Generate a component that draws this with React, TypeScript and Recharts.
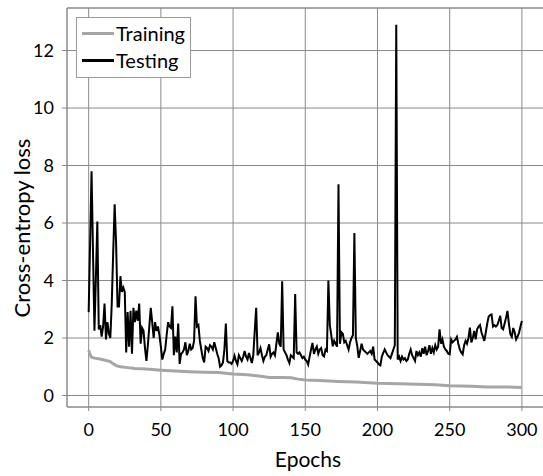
import React from "react";
import { LineChart, Line, XAxis, YAxis, CartesianGrid, ReferenceLine } from "recharts";

const FONT = "Lato, 'Open Sans', sans-serif";
const GRID = "#8a8a8a";

const EPOCH_TICKS = [0, 50, 100, 150, 200, 250, 300];
const LOSS_TICKS = [0, 2, 4, 6, 8, 10, 12];

// testing loss, one value per epoch (0..300)
const TEST_LOSS = [
  2.9, 5.3, 7.8, 5.0, 2.25, 4.1, 6.05, 2.3, 2.45, 2.05,
  2.4, 3.2, 1.95, 2.55, 2.15, 2.0, 3.2, 5.0, 6.65, 5.3,
  3.1, 3.1, 4.15, 3.6, 3.75, 3.6, 1.5, 2.9, 1.7, 2.95,
  1.45, 3.05, 2.55, 2.95, 2.6, 3.2, 1.8, 2.35, 2.25, 1.65,
  1.2, 1.75, 2.4, 3.05, 2.55, 2.0, 2.55, 2.25, 2.4, 2.1,
  1.7, 1.25, 1.45, 1.6, 2.1, 2.55, 2.4, 2.35, 3.1, 1.4,
  2.05, 1.5, 2.5, 1.1, 1.45, 1.5, 1.6, 1.85, 1.4, 1.55,
  1.8, 1.6, 1.65, 1.9, 3.45, 2.4, 2.45, 1.9, 1.6, 1.3,
  1.15, 1.7, 1.65, 1.55, 1.75, 1.7, 1.6, 1.85, 1.65, 1.45,
  1.3, 1.0, 1.05, 1.15, 1.6, 2.5, 1.2, 1.15, 1.15, 1.1,
  1.2, 1.38, 1.2, 1.08, 1.4, 1.3, 1.2, 1.35, 1.55, 1.35,
  1.25, 1.48, 1.3, 1.13, 1.4, 2.25, 3.05, 1.4, 1.5, 1.65,
  1.4, 1.2, 1.35, 1.4, 1.6, 1.78, 1.35, 1.45, 1.5, 1.4,
  1.8, 2.2, 1.8, 1.7, 3.97, 1.6, 1.5, 1.4, 1.25, 1.13,
  1.4, 1.35, 1.3, 3.53, 1.5, 1.45, 1.5, 1.4, 1.3, 1.35,
  1.25, 1.2, 1.08, 1.35, 1.6, 1.83, 1.45, 1.6, 1.7, 1.45,
  1.6, 1.65, 1.4, 1.36, 1.6, 1.55, 4.0, 2.45, 2.1, 1.71,
  1.9, 1.8, 1.7, 7.35, 1.8, 2.2, 2.15, 1.85, 1.9, 1.75,
  1.6, 1.85, 2.0, 2.1, 5.65, 2.0, 1.72, 1.31, 1.55, 1.8,
  1.6, 1.55, 1.5, 1.45, 1.5, 1.55, 1.45, 1.7, 1.25, 1.2,
  1.15, 1.08, 1.05, 1.35, 1.48, 1.6, 1.5, 1.4, 1.35, 1.3,
  1.45, 1.6, 1.75, 12.9, 1.25, 1.35, 1.2, 1.35, 1.25, 1.3,
  1.2, 1.25, 1.45, 1.6, 1.4, 1.3, 1.2, 1.55, 1.4, 1.5,
  1.35, 1.65, 1.45, 1.7, 1.4, 1.55, 1.75, 1.45, 1.65, 1.5,
  1.75, 1.6, 1.7, 2.3, 1.8, 1.95, 1.7, 1.6, 1.55, 1.45,
  1.43, 1.95, 1.85, 1.9, 1.95, 2.04, 1.8, 1.6, 1.5, 1.43,
  1.75, 1.9, 1.8, 2.0, 2.36, 1.85, 2.0, 2.25, 1.95, 2.3,
  2.4, 2.45, 2.2, 2.05, 1.9, 2.2, 2.5, 2.75, 2.8, 2.82,
  2.4, 2.45, 2.4, 2.45, 2.6, 2.77, 2.35, 2.3, 2.5, 2.7,
  2.94, 2.5, 2.13, 2.04, 2.35, 2.2, 1.95, 2.05, 2.18, 2.4,
  2.59,
];

// training loss, read at a few epochs along the smooth curve
const TRAIN_EPOCHS = [
  0, 1, 2, 4, 8, 12, 15, 17, 19, 22, 27, 32, 40, 50, 60, 70, 80, 90, 100, 110,
  118, 125, 135, 140, 145, 150, 160, 173, 185, 200, 215, 228, 240, 250, 265, 276, 290, 300,
];
const TRAIN_LOSS = [
  1.58, 1.42, 1.33, 1.3, 1.27, 1.22, 1.18, 1.1, 1.04, 1.0, 0.97, 0.94, 0.92, 0.88, 0.85, 0.83, 0.81, 0.8, 0.75, 0.72,
  0.68, 0.63, 0.63, 0.62, 0.57, 0.54, 0.52, 0.49, 0.47, 0.43, 0.41, 0.39, 0.37, 0.34, 0.32, 0.3, 0.3, 0.28,
];

const SERIES = [
  { label: "Training", color: "#a6a6a6" },
  { label: "Testing", color: "#000000" },
];

const testData = TEST_LOSS.map((loss, epoch) => ({ epoch, loss }));
const trainData = TRAIN_EPOCHS.map((epoch, i) => ({ epoch, loss: TRAIN_LOSS[i] }));

const Y_MIN = -0.4;
const Y_MAX = 13.48;

const titleStyle = { fontSize: 21, fill: "#000", fontFamily: FONT };

// axis titles sit a little off-centre in the original, so place them by hand
function XTitle() {
  return (
    <text x={308} y={466.5} textAnchor="middle" style={titleStyle}>
      Epochs
    </text>
  );
}

function YTitle() {
  return (
    <text
      x={29.5}
      y={228}
      transform="rotate(-90 29.5 228)"
      textAnchor="middle"
      style={{ ...titleStyle, fontSize: 22 }}
    >
      Cross-entropy loss
    </text>
  );
}

// legend box drawn over the plot, upper left
function LossLegend() {
  return (
    <div
      style={{
        position: "absolute",
        left: 76,
        top: 17,
        boxSizing: "border-box",
        width: 115,
        height: 61,
        border: "1px solid #9a9a9a",
        background: "#fff",
        padding: "2px 0 0 5px",
        fontFamily: FONT,
        fontSize: 20,
        lineHeight: "27px",
        color: "#000",
      }}
    >
      {SERIES.map((s) => (
        <div key={s.label} style={{ display: "flex", alignItems: "center", whiteSpace: "nowrap" }}>
          <span style={{ display: "inline-block", width: 32, height: 3, background: s.color, marginRight: 2 }} />
          {s.label}
        </div>
      ))}
    </div>
  );
}

export default function App() {
  const tick = { fontSize: 18, fill: "#000", fontFamily: FONT };
  return (
    <div style={{ position: "absolute", left: 0, top: 0, width: 543, height: 476, overflow: "hidden", background: "#fff" }}>
      <LineChart width={543} height={476} margin={{ top: 8, right: -2, bottom: 0, left: 0 }}>
        <CartesianGrid stroke={GRID} strokeWidth={1} />
        <XAxis
          type="number"
          dataKey="epoch"
          domain={[-15, 316]}
          ticks={EPOCH_TICKS}
          allowDataOverflow
          height={69}
          tick={tick}
          tickSize={4}
          tickMargin={12}
          tickLine={{ stroke: GRID }}
          axisLine={{ stroke: GRID }}
          label={<XTitle />}
        />
        <YAxis
          type="number"
          domain={[Y_MIN, Y_MAX]}
          ticks={LOSS_TICKS}
          allowDataOverflow
          width={67}
          tick={tick}
          tickSize={5}
          tickMargin={8}
          tickLine={{ stroke: GRID }}
          axisLine={{ stroke: GRID }}
          label={<YTitle />}
        />
        <ReferenceLine y={Y_MAX} stroke={GRID} />
        <Line
          data={trainData}
          dataKey="loss"
          name="Training"
          type="linear"
          stroke="#a6a6a6"
          strokeWidth={3}
          dot={false}
          isAnimationActive={false}
        />
        <Line
          data={testData}
          dataKey="loss"
          name="Testing"
          type="linear"
          stroke="#000"
          strokeWidth={2}
          dot={false}
          isAnimationActive={false}
        />
      </LineChart>
      <LossLegend />
    </div>
  );
}
